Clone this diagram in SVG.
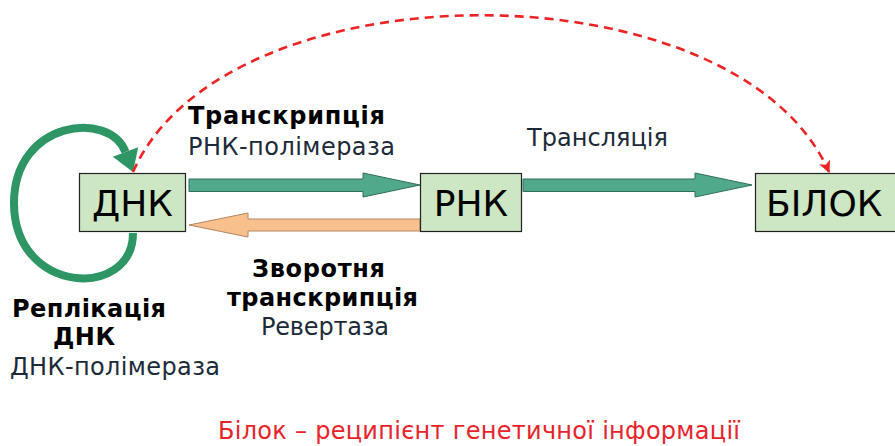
<svg xmlns="http://www.w3.org/2000/svg" width="895" height="446" viewBox="0 0 895 446">
  <style>
    .box { fill: #cde6c3; stroke: #222; stroke-width: 1.2; }
    .boxtxt { font-family: "DejaVu Sans", Verdana, sans-serif; font-size: 36px; fill: #000; }
    .lbl { font-family: "DejaVu Sans", Verdana, sans-serif; font-size: 24px; fill: #1c2a38; }
    .bold { font-weight: bold; fill: #000; }
    .fwd { fill: #4fa98a; stroke: #2f6f5a; stroke-width: 1; }
    .rev { fill: #f8c08d; stroke: #b58560; stroke-width: 1; }
    .loop { fill: none; stroke: #2e9664; stroke-width: 8; }
    .dash { fill: none; stroke: #ee2424; stroke-width: 2.6; stroke-dasharray: 9 6; }
    .note { font-family: "DejaVu Sans", Verdana, sans-serif; font-size: 24px; fill: #e8232a; }
  </style>
  <defs>
    <marker id="redHead" markerUnits="userSpaceOnUse" markerWidth="12" markerHeight="14" refX="11" refY="6" orient="auto">
      <path d="M0,0 L12,6 L0,12 L3,6 Z" fill="#ee2424"/>
    </marker>
  </defs>

  <g id="connectors">
    <!-- replication loop around DNA -->
    <path class="loop" d="M133,233 C133,300 14,295 14,203 C14,120 110,110 125.5,152"/>
    <polygon points="112.8,156.7 138.2,147.3 133,172" fill="#2e9664"/>
    <!-- DNA -> RNA transcription -->
    <polygon class="fwd" points="189,179 363,179 363,173 420,185 363,197 363,191.5 189,191.5"/>
    <!-- RNA -> protein translation -->
    <polygon class="fwd" points="523,179 695,179 695,173 752,185 695,197 695,191.5 523,191.5"/>
    <!-- RNA -> DNA reverse transcription -->
    <polygon class="rev" points="420,219 248,219 248,213 189,225 248,237 248,231 420,231"/>
    <!-- protein as recipient of genetic information -->
    <path class="dash" d="M133,172 C225,-37 737,-37 829,172" marker-end="url(#redHead)"/>
  </g>

  <g id="dna">
    <rect class="box" x="79.5" y="173.5" width="106" height="58"/>
    <text class="boxtxt" x="132.5" y="216" text-anchor="middle">ДНК</text>
  </g>
  <g id="rna">
    <rect class="box" x="420.5" y="173.5" width="101" height="58"/>
    <text class="boxtxt" x="471" y="216" text-anchor="middle">РНК</text>
  </g>
  <g id="protein">
    <rect class="box" x="755.5" y="173.5" width="150" height="58"/>
    <text class="boxtxt" x="766" y="216">БІЛОК</text>
  </g>

  <g id="labels">
    <text class="lbl bold" x="188" y="124" textLength="197" lengthAdjust="spacing">Транскрипція</text>
    <text class="lbl" x="188" y="155" textLength="207" lengthAdjust="spacing">РНК-полімераза</text>
    <text class="lbl" x="527" y="146" textLength="141" lengthAdjust="spacing">Трансляція</text>
    <text class="lbl bold" x="252" y="277" textLength="133" lengthAdjust="spacing">Зворотня</text>
    <text class="lbl bold" x="227" y="306" textLength="191" lengthAdjust="spacing">транскрипція</text>
    <text class="lbl" x="261" y="335" textLength="128" lengthAdjust="spacing">Ревертаза</text>
    <text class="lbl bold" x="12" y="317" textLength="154" lengthAdjust="spacing">Реплікація</text>
    <text class="lbl bold" x="53" y="345" textLength="62" lengthAdjust="spacing">ДНК</text>
    <text class="lbl" x="10" y="375" textLength="210" lengthAdjust="spacing">ДНК-полімераза</text>
    <text class="note" x="218" y="439" textLength="522" lengthAdjust="spacing">Білок – реципієнт генетичної інформації</text>
  </g>
</svg>
